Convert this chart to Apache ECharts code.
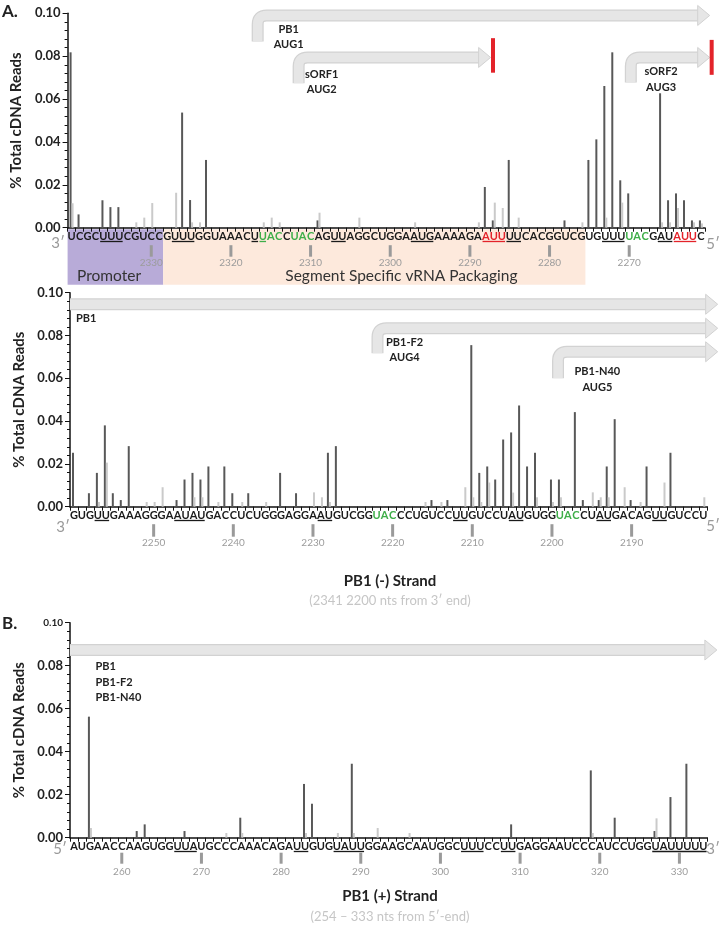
<!DOCTYPE html>
<html><head><meta charset="utf-8">
<script src="https://cdn.jsdelivr.net/npm/echarts@6/dist/echarts.min.js"></script>
<style>html,body{margin:0;padding:0;background:#fff}#c{width:720px;height:925px}</style>
</head><body><div id="c"></div>
<script>
// ---------------- DATA ----------------
// Panel A, upper: PB1 (-) strand, positions 2340 -> 2261 (3' -> 5')
const seqTop = "UCGCUUUCGUCCGUUUGGUAAACUUACCUACAGUUAGGCUGGAAUGAAAAGAAUUUUCACGGUCGUGUUUUACGAUAUUC";
const startTop = 2340;
const ticksTop = [2330, 2320, 2310, 2300, 2290, 2280, 2270];
const underTop = [[4,6],[13,15],[23,24],[33,34],[43,45],[52,54],[55,56],[67,69],[74,75],[76,78]];
const greenTop = [[24,26],[28,30],[70,72]];
const redTop = [[52,54],[76,78]];
const darkTop = [
0.0818,0.0062,0,0,0.0128,0.0096,0.0096,0,0,0,
0,0,0,0,0.0537,0.0129,0,0.0316,0,0,
0,0,0,0,0,0,0,0,0,0,
0,0.0034,0,0,0,0,0,0,0,0,
0,0,0,0,0,0,0,0,0,0,
0,0,0.0190,0.0034,0,0.0316,0,0,0,0,
0,0,0.0034,0,0,0.0316,0.0412,0.0661,0.0818,0.0221,
0.0160,0,0,0,0.0627,0.0128,0.0160,0.0128,0.0034,0.0034];
const lightTop = [
0.0114,0,0,0,0,0,0,0,0.0025,0.0047,
0.0115,0,0,0.0163,0,0.0025,0.0025,0,0,0,
0,0,0,0,0.0025,0.0047,0.0025,0,0,0,
0,0.0070,0,0,0,0,0.0047,0,0,0,
0,0,0,0.0025,0,0,0,0,0,0,
0,0.0025,0,0.0117,0.0092,0,0.0047,0,0,0,
0,0,0,0,0.0025,0,0,0.0047,0,0.0117,
0,0,0,0,0.0025,0.0025,0.0092,0,0.0025,0.0020];

// Panel A, lower: PB1 (-) strand, positions 2260 -> 2181
const seqMid = "GUGUUGAAAGGGAAUAUGACCUCUGGGAGGAAUGUCGGUACCCUGUCCUUGUCCUAUGUGGUACCUAUGACAGUUGUCCU";
const startMid = 2260;
const ticksMid = [2250, 2240, 2230, 2220, 2210, 2200, 2190];
const underMid = [[3,4],[13,16],[31,32],[48,49],[55,56],[66,67],[73,74]];
const greenMid = [[38,40],[61,63]];
const redMid = [];
const darkMid = [
0.0252,0,0.0063,0.0158,0.0380,0.0063,0.0031,0.0283,0,0,
0,0,0,0.0031,0.0127,0.0158,0.0127,0.0188,0,0.0188,
0.0063,0,0.0063,0,0,0,0.0158,0,0.0063,0,
0,0,0.0252,0.0283,0,0,0,0,0,0,
0,0,0,0,0,0.0031,0,0.0031,0,0,
0.0755,0.0158,0.0188,0.0127,0.0314,0.0347,0.0473,0.0188,0.0252,0,
0.0127,0.0127,0,0.0442,0.0031,0,0.0031,0.0188,0.0409,0,
0.0031,0,0.0188,0,0,0.0252,0,0,0,0];
const lightMid = [
0,0,0,0.0022,0.0206,0,0,0,0,0.0022,
0.0022,0.0091,0,0,0,0.0044,0.0044,0,0.0022,0,
0,0.0022,0,0,0.0022,0,0,0,0,0,
0.0067,0.0044,0.0022,0,0,0,0,0,0,0,
0,0,0,0,0.0022,0,0.0022,0,0,0.0091,
0.0044,0.0022,0.0113,0,0,0.0066,0,0,0.0044,0,
0.0022,0.0044,0,0,0,0.0067,0.0044,0.0044,0,0.0091,
0,0.0022,0,0,0.0113,0,0,0,0,0.0044];

// Panel B: PB1 (+) strand, positions 254 -> 333 (5' -> 3')
const seqB = "AUGAACCAAGUGGUUAUGCCCAAACAGAUUGUGUAUUGGAAGCAAUGGCUUUCCUUGAGGAAUCCCAUCCUGGUAUUUUU";
const startB = 254;
const ticksB = [260, 270, 280, 290, 300, 310, 320, 330];
const underB = [[13,15],[28,29],[33,36],[49,51],[54,55],[73,79]];
const greenB = [];
const redB = [];
const darkB = [
0,0,0.0563,0,0,0,0,0,0.0031,0.0062,
0,0,0,0,0.0031,0,0,0,0,0,
0,0.0093,0,0,0,0,0,0,0,0.0250,
0.0158,0,0,0,0,0.0344,0,0,0,0,
0,0,0,0,0,0,0,0,0,0,
0,0,0,0,0,0.0062,0,0,0,0,
0,0,0,0,0,0.0313,0,0,0.0093,0,
0,0,0,0.0031,0,0.0189,0,0.0344,0,0];
const lightB = [
0,0,0.0045,0,0,0,0,0,0,0,
0,0,0,0,0,0,0,0,0,0.0022,
0,0.0022,0,0,0,0,0,0,0,0.0022,
0,0,0,0.0022,0,0.0022,0,0,0.0045,0,
0,0,0.0022,0,0,0,0,0,0,0,
0,0,0,0,0,0,0,0,0,0,
0,0,0,0,0,0.0022,0,0,0,0,
0,0,0,0.0090,0,0,0,0,0,0];

// ---------------- PANEL DEFINITIONS ----------------
const PANELS = [
  {seq:seqTop, start:startTop, dir:-1, ticks:ticksTop, under:underTop, green:greenTop, red:redTop, dark:darkTop, light:lightTop},
  {seq:seqMid, start:startMid, dir:-1, ticks:ticksMid, under:underMid, green:greenMid, red:redMid, dark:darkMid, light:lightMid},
  {seq:seqB, start:startB, dir:1, ticks:ticksB, under:underB, green:greenB, red:redB, dark:darkB, light:lightB}
];
const LAYOUT = [
  {grid:{left:67.6, top:13.3, width:637.3, height:214.4}, numTop:17.5, tickLen:11.5, numMargin:30.5, smallTop:false},
  {grid:{left:70, top:292.7, width:637.3, height:214}, numTop:17.5, tickLen:12.5, numMargin:31, smallTop:false},
  {grid:{left:70, top:622.7, width:637.3, height:215}, numTop:15, tickLen:11, numMargin:29, smallTop:true}
];
// annotations in data coordinates (category index, value)
const BOXES = [
  [{from:0, to:11, color:'#b8abd8', label:'Promoter', lx:4.7},
   {from:12, to:64, color:'#fde9dc', label:'Segment Specific vRNA Packaging', lx:41.4}],
  [], []
];
const ANNOS = [
  [
    {kind:'arrow', stem:23.36, y:0.0990, bottom:0.0868, tip:80.1},
    {kind:'arrow', stem:28.5, y:0.0794, bottom:0.0674, tip:52.6},
    {kind:'arrow', stem:70.2, y:0.0794, bottom:0.0677, tip:80.1},
    {kind:'stop', x:52.9, y0:0.0723, y1:0.0884},
    {kind:'stop', x:80.35, y0:0.0713, y1:0.0876},
    {kind:'text', x:27.25, y:0.0926, t:'PB1'},
    {kind:'text', x:27.25, y:0.0856, t:'AUG1'},
    {kind:'text', x:31.4, y:0.0717, t:'sORF1'},
    {kind:'text', x:31.4, y:0.0646, t:'AUG2'},
    {kind:'text', x:74.0, y:0.0728, t:'sORF2'},
    {kind:'text', x:74.0, y:0.0655, t:'AUG3'}
  ],
  [
    {kind:'arrow', stem:null, start:-0.5, y:0.0946, tip:80.8},
    {kind:'arrow', stem:38.1, y:0.0834, bottom:0.0717, tip:80.8},
    {kind:'arrow', stem:60.76, y:0.0724, bottom:0.0600, tip:80.8},
    {kind:'text', x:0.25, y:0.0880, t:'PB1', align:'left'},
    {kind:'text', x:41.5, y:0.0766, t:'PB1-F2'},
    {kind:'text', x:41.5, y:0.0698, t:'AUG4'},
    {kind:'text', x:65.7, y:0.0631, t:'PB1-N40'},
    {kind:'text', x:65.7, y:0.0558, t:'AUG5'}
  ],
  [
    {kind:'arrow', stem:null, start:-0.5, y:0.0873, tip:80.7},
    {kind:'text', x:2.7, y:0.0795, t:'PB1', align:'left'},
    {kind:'text', x:2.7, y:0.0723, t:'PB1-F2', align:'left'},
    {kind:'text', x:2.7, y:0.0650, t:'PB1-N40', align:'left'}
  ]
];

const FONT = 'Lato, "Open Sans", sans-serif';
const COLORS = {k:'#1a1a1a', g:'#3fae49', r:'#e3232a'};

function inRanges(ranges, i){ return ranges.some(r => i >= r[0] && i <= r[1]); }
function colorKey(p, i){ return inRanges(p.red, i) ? 'r' : (inRanges(p.green, i) ? 'g' : 'k'); }

function helpers(api){
  const bw = api.size([1, 0])[0];
  const c0 = api.coord([0, 0]);
  return {bw, base:c0[1], px:i => c0[0] + i*bw, py:v => api.coord([0, v])[1]};
}
function txt(text, x, y, font, fill, align, valign){
  return {type:'text', style:{text, x, y, font, fill, align:align||'center', textAlign:align||'center',
          verticalAlign:valign||'middle', textVerticalAlign:valign||'middle'}};
}

function boxRender(items){
  return function(params, api){
    const it = items[params.dataIndex]; const h = helpers(api);
    return {type:'group', children:[
      {type:'rect', shape:{x:h.px(it.from) - h.bw/2, y:h.base + 1.5, width:(it.to - it.from + 1)*h.bw, height:55.5}, style:{fill:it.color}},
      txt(it.label, h.px(it.lx), h.base + 48.5, '15.5px ' + FONT, '#333')
    ]};
  };
}
function annoRender(items){
  return function(params, api){
    const it = items[params.dataIndex]; const h = helpers(api);
    if (it.kind === 'text') {
      return txt(it.t, h.px(it.x), h.py(it.y), 'bold 11px ' + FONT, '#222', it.align);
    }
    if (it.kind === 'stop') {
      const y1 = h.py(it.y1), y0 = h.py(it.y0);
      return {type:'rect', shape:{x:h.px(it.x) - 2, y:y1, width:4, height:y0 - y1}, style:{fill:'#e3232a'}};
    }
    // arrow
    const by = h.py(it.y), tx = h.px(it.tip), hx = tx - 12, T = 10.5;
    let d;
    if (it.stem != null) {
      const sx = h.px(it.stem), sb = h.py(it.bottom), r = 9;
      d = 'M' + sx + ' ' + sb + ' L' + sx + ' ' + (by + r) + ' Q' + sx + ' ' + by + ' ' + (sx + r) + ' ' + by + ' L' + hx + ' ' + by;
    } else {
      const sx = h.px(it.start);
      d = 'M' + sx + ' ' + by + ' L' + hx + ' ' + by;
    }
    return {type:'group', children:[
      {type:'path', shape:{pathData:d}, style:{stroke:'#d2d2d2', lineWidth:T + 1.5, fill:'none', lineCap:'butt', lineJoin:'round'}},
      {type:'path', shape:{pathData:d}, style:{stroke:'#e6e6e6', lineWidth:T - 1, fill:'none', lineCap:'butt', lineJoin:'round'}},
      {type:'polygon', shape:{points:[[hx, by - 10], [tx, by], [hx, by + 10]]}, style:{fill:'#e6e6e6', stroke:'#d2d2d2', lineWidth:1}}
    ]};
  };
}
function underSegments(p){
  const segs = [];
  p.under.forEach(r => {
    let s = r[0], c = colorKey(p, r[0]);
    for (let i = r[0] + 1; i <= r[1] + 1; i++) {
      const ci = i <= r[1] ? colorKey(p, i) : null;
      if (ci !== c) { segs.push({from:s, to:i - 1, color:COLORS[c]}); s = i; c = ci; }
    }
  });
  return segs;
}
function underRender(items){
  return function(params, api){
    const it = items[params.dataIndex]; const h = helpers(api);
    const y = h.base + 13.8;
    return {type:'line', shape:{x1:h.px(it.from) - h.bw/2 + 0.7, y1:y, x2:h.px(it.to) + h.bw/2 - 0.7, y2:y},
            style:{stroke:it.color, lineWidth:1.3}};
  };
}
function tickRender(p, L){
  return function(params, api){
    const h = helpers(api);
    const i = (p.ticks[params.dataIndex] - p.start) / p.dir;
    return {type:'rect', shape:{x:h.px(i) - 1.5, y:h.base + L.numTop, width:3, height:L.tickLen}, style:{fill:'#9a9a9a'}};
  };
}

// ---------------- OPTION ----------------
const grids = [], xAxes = [], yAxes = [], series = [];
PANELS.forEach((p, k) => {
  const L = LAYOUT[k];
  const cats = p.seq.split('').map((_, i) => String(p.start + p.dir*i));
  grids.push(Object.assign({containLabel:false, outerBoundsMode:'none'}, L.grid));
  const rich = {};
  Object.keys(COLORS).forEach(c => rich[c] = {color:COLORS[c], fontWeight:'bold', fontSize:11, fontFamily:FONT});
  xAxes.push({
    type:'category', gridIndex:k, data:cats, boundaryGap:true,
    axisLine:{show:true, onZero:false, lineStyle:{color:'#111', width:1.5}},
    axisTick:{show:true, length:4, interval:0, lineStyle:{color:'#111', width:1}},
    axisLabel:{interval:0, margin:3, hideOverlap:false, formatter:(v, i) => '{' + colorKey(p, i) + '|' + p.seq[i] + '}', rich},
    splitLine:{show:false}
  });
  const isTick = (i, v) => p.ticks.indexOf(Number(v)) >= 0;
  xAxes.push({
    type:'category', gridIndex:k, data:cats, position:'bottom', offset:0, boundaryGap:true,
    axisLine:{show:false}, axisTick:{show:false},
    axisLabel:{interval:isTick, margin:L.numMargin, hideOverlap:false, color:'#9c9c9c', fontSize:10, fontFamily:FONT},
    splitLine:{show:false}
  });
  yAxes.push({
    type:'value', gridIndex:k, min:0, max:0.1, interval:0.02,
    axisLine:{show:true, lineStyle:{color:'#111', width:1.5}},
    axisTick:{show:true, length:5, lineStyle:{color:'#111', width:1}},
    minorTick:{show:true, splitNumber:5, length:3, lineStyle:{color:'#111', width:1}},
    splitLine:{show:false},
    axisLabel:{margin:7, color:'#222', fontWeight:'bold', fontSize:13, fontFamily:FONT,
      formatter:v => (L.smallTop && Math.abs(v - 0.1) < 1e-9) ? '{s|0.10}' : v.toFixed(2),
      rich:{s:{fontSize:10, fontWeight:'bold', fontFamily:FONT, color:'#222'}}},
    name:'% Total cDNA Reads', nameLocation:'middle', nameGap:43,
    nameTextStyle:{color:'#222', fontWeight:'bold', fontSize:15, fontFamily:FONT}
  });
  series.push({type:'bar', name:'dark' + k, xAxisIndex:2*k, yAxisIndex:k, data:p.dark, barWidth:2, barGap:'0%',
               itemStyle:{color:'#585858'}, silent:true, z:2});
  series.push({type:'bar', name:'light' + k, xAxisIndex:2*k, yAxisIndex:k, data:p.light, barWidth:2, barGap:'0%',
               itemStyle:{color:'#cacaca'}, silent:true, z:2});
  const boxes = BOXES[k];
  if (boxes.length) series.push({type:'custom', xAxisIndex:2*k, yAxisIndex:k, z:-1, silent:true, clip:false,
               data:boxes.map(() => [0, 0]), renderItem:boxRender(boxes)});
  series.push({type:'custom', xAxisIndex:2*k, yAxisIndex:k, z:5, silent:true, clip:false,
               data:p.ticks.map(() => [0, 0]), renderItem:tickRender(p, L)});
  const segs = underSegments(p);
  series.push({type:'custom', xAxisIndex:2*k, yAxisIndex:k, z:5, silent:true, clip:false,
               data:segs.map(() => [0, 0]), renderItem:underRender(segs)});
  const an = ANNOS[k];
  series.push({type:'custom', xAxisIndex:2*k, yAxisIndex:k, z:1, silent:true, clip:false,
               data:an.map(() => [0, 0]), renderItem:annoRender(an)});
});

function gtext(text, x, y, font, fill, align){
  return {type:'text', x, y, silent:true, style:{text, font, fill, align:align||'center', textAlign:align||'center',
          verticalAlign:'middle', textVerticalAlign:'middle'}};
}
const primeFont = '15px ' + FONT;
const graphic = [
  gtext('A.', 2, 12, 'bold 17px ' + FONT, '#222', 'left'),
  gtext('B.', 2, 624, 'bold 17px ' + FONT, '#222', 'left'),
  gtext('3\u2032', 58, 243, primeFont, '#9a9a9a'),
  gtext('5\u2032', 713, 244, primeFont, '#9a9a9a'),
  gtext('3\u2032', 63, 527, primeFont, '#9a9a9a'),
  gtext('5\u2032', 713, 526, primeFont, '#9a9a9a'),
  gtext('5\u2032', 60, 849, primeFont, '#9a9a9a'),
  gtext('3\u2032', 713, 849, primeFont, '#9a9a9a'),
  gtext('PB1 (-) Strand', 390, 581, 'bold 15px ' + FONT, '#222'),
  gtext('(2341 2200 nts from 3\u2032 end)', 390, 601, '13px ' + FONT, '#c6c6c6'),
  gtext('PB1 (+) Strand', 390, 896, 'bold 15px ' + FONT, '#222'),
  gtext('(254 \u2013 333 nts from 5\u2032-end)', 390, 917, '13px ' + FONT, '#c6c6c6')
];

const chart = echarts.init(document.getElementById('c'), null, {renderer:'canvas'});
chart.setOption({
  backgroundColor:'#ffffff', animation:false, tooltip:{show:false},
  textStyle:{fontFamily:FONT},
  grid:grids, xAxis:xAxes, yAxis:yAxes, series, graphic
});
</script></body></html>
